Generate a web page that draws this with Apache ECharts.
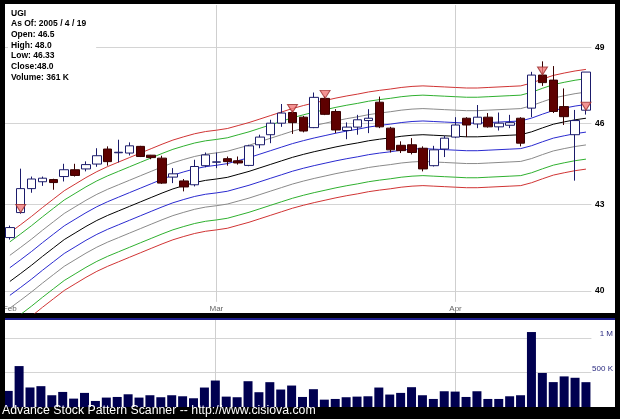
<!DOCTYPE html>
<html><head><meta charset="utf-8">
<script src="https://cdn.jsdelivr.net/npm/echarts@6.0.0/dist/echarts.min.js"></script>
<style>html,body{margin:0;padding:0;background:#000;}#c{width:620px;height:419px;}</style>
</head><body><div id="c"></div>
<script>
// ---- data ----
const dates = [
 '2005-02-01','2005-02-02','2005-02-03','2005-02-04','2005-02-07','2005-02-08','2005-02-09','2005-02-10','2005-02-11',
 '2005-02-14','2005-02-15','2005-02-16','2005-02-17','2005-02-18','2005-02-22','2005-02-23','2005-02-24','2005-02-25','2005-02-28',
 '2005-03-01','2005-03-02','2005-03-03','2005-03-04','2005-03-07','2005-03-08','2005-03-09','2005-03-10','2005-03-11',
 '2005-03-14','2005-03-15','2005-03-16','2005-03-17','2005-03-18','2005-03-21','2005-03-22','2005-03-23','2005-03-24',
 '2005-03-28','2005-03-29','2005-03-30','2005-03-31',
 '2005-04-01','2005-04-04','2005-04-05','2005-04-06','2005-04-07','2005-04-08','2005-04-11','2005-04-12','2005-04-13',
 '2005-04-14','2005-04-15','2005-04-18','2005-04-19'];
const monthNames = ['Jan','Feb','Mar','Apr','May','Jun','Jul','Aug','Sep','Oct','Nov','Dec'];

const opens = [41.82,42.70,43.56,43.81,43.89,44.00,44.25,44.28,44.46,45.02,44.88,44.87,45.12,44.79,44.68,43.98,43.84,43.70,44.40,
 44.53,44.66,44.58,44.41,45.18,45.56,46.00,46.41,46.23,45.83,46.96,46.45,45.72,45.85,46.10,46.81,45.81,45.16,45.18,45.05,44.40,45.02,
 45.47,46.19,45.97,46.23,45.86,45.92,46.19,46.58,47.88,47.68,46.64,45.56,46.50];
const closes = [42.17,43.56,43.91,43.94,43.78,44.25,44.04,44.44,44.77,44.55,44.90,45.14,44.74,44.70,43.76,44.10,43.62,44.37,44.80,
 44.54,44.55,44.50,45.14,45.47,46.00,46.39,46.02,45.70,47.00,46.34,45.74,45.85,46.13,46.19,45.86,44.99,44.96,44.89,44.28,44.99,45.43,
 45.93,45.93,46.23,45.86,46.00,46.02,45.24,47.88,47.58,46.45,46.25,46.10,48.00];
const highs = [42.24,44.29,44.00,44.00,43.92,44.47,44.47,44.56,45.05,45.12,45.37,45.27,45.14,44.80,44.77,44.31,43.91,44.62,44.89,
 44.89,44.74,44.74,45.18,45.56,46.13,46.74,46.51,46.28,47.19,47.05,46.54,46.03,46.32,46.54,47.03,45.86,45.31,45.43,45.12,45.14,45.52,
 46.23,46.23,46.70,46.39,46.41,46.32,46.23,48.01,48.43,48.24,47.35,46.51,48.00];
const lows = [41.75,42.66,43.41,43.66,43.52,43.82,44.00,44.19,44.36,44.40,44.52,44.78,44.72,44.64,43.73,43.76,43.46,43.64,44.34,
 44.31,44.40,44.44,44.38,45.05,45.24,45.86,45.59,45.65,45.81,46.31,45.62,45.39,45.56,45.62,45.81,44.89,44.87,44.82,44.19,44.37,44.72,
 45.43,45.47,45.81,45.83,45.72,45.81,45.12,46.23,47.45,46.39,45.93,43.85,46.33];
const volumes = [234000,595000,284000,303000,171000,219000,122000,205000,88000,137000,146000,185000,137000,171000,142000,171000,156000,127000,283000,
 385000,151000,142000,375000,215000,361000,254000,312000,146000,259000,107000,117000,142000,151000,156000,283000,181000,205000,288000,171000,117000,229000,
 224000,146000,229000,117000,117000,156000,171000,1090000,495000,362000,445000,425000,361000];
// centre line of the envelope (black line)
const midline = [40.32,40.59,40.87,41.17,41.46,41.75,41.98,42.21,42.42,42.60,42.76,42.92,43.08,43.24,43.40,43.55,43.67,43.78,43.86,
 43.91,43.97,44.08,44.19,44.32,44.45,44.58,44.71,44.82,44.92,45.01,45.10,45.18,45.25,45.33,45.39,45.44,45.50,45.54,45.56,45.54,45.52,
 45.50,45.48,45.48,45.50,45.52,45.54,45.56,45.67,45.82,45.96,46.05,46.13,46.19];
// envelope offsets (percent): blue, gray, green, red
const envelopePct = [1.15, 2.2, 3.35, 4.15];
// pattern signals (down triangles at the open)
const signalIdx = [1, 26, 29, 49, 53];
const priceTicks = [40, 43, 46, 49];
const volumeTicks = [500000, 1000000];
const infoLines = ['UGI','As Of: 2005 / 4 / 19','Open: 46.5','High: 48.0','Low: 46.33','Close:48.0','Volume: 361 K'];
const footer = 'Advance Stock Pattern Scanner -- http://www.cisiova.com';

// ---- build chart ----
const chart = echarts.init(document.getElementById('c'), null, {renderer: 'canvas'});
const monthStarts = dates.map((d, i) => i === 0 || d.slice(5, 7) !== dates[i - 1].slice(5, 7)).map((b, i) => b ? i : -1).filter(i => i >= 0);
const gridLineIdx = monthStarts.filter(i => i > 0);
const bandColors = ['#2a2ad0', '#8a8a8a', '#2fb02f', '#d03434'];
const priceMin = 39.274, priceMax = 50.757, vLineBottom = 39.64;
const vLineStyle = {color: '#cfcfcf', width: 1, type: 'solid'};
const vLinesPrice = {silent: true, symbol: 'none', z: 1, label: {show: false}, lineStyle: vLineStyle,
  data: gridLineIdx.map(i => [{coord: [dates[i], vLineBottom]}, {coord: [dates[i], priceMax]}])};
const vLinesVol = {silent: true, symbol: 'none', z: 1, label: {show: false}, lineStyle: vLineStyle,
  data: gridLineIdx.map(i => ({xAxis: dates[i]}))};
const lineSeries = [];
lineSeries.push({type: 'line', name: 'mid', xAxisIndex: 0, yAxisIndex: 0, data: midline, symbol: 'none', silent: true, z: 2,
  lineStyle: {color: '#000', width: 1}, markLine: vLinesPrice});
envelopePct.forEach((p, k) => {
  lineSeries.push({type: 'line', xAxisIndex: 0, yAxisIndex: 0, symbol: 'none', silent: true, z: 2,
    data: midline.map(v => +(v * (1 + p / 100)).toFixed(3)), lineStyle: {color: bandColors[k], width: 1}});
  lineSeries.push({type: 'line', xAxisIndex: 0, yAxisIndex: 0, symbol: 'none', silent: true, z: 2,
    data: midline.map(v => +(v * (1 - p / 100)).toFixed(3)), lineStyle: {color: bandColors[k], width: 1}});
});

const gridL = 2.75, gridR = 28.6;
const option = {
  animation: false,
  backgroundColor: '#000',
  title: {
    text: infoLines.join('\n'), left: 8, top: 5, padding: [3, 10, 3, 3], backgroundColor: '#fff',
    textStyle: {fontFamily: '"Liberation Sans", Arial, sans-serif', fontSize: 8.5, fontWeight: 'bold', lineHeight: 10.7, color: '#000'}
  },
  graphic: [
    {type: 'rect', z: -10, shape: {x: 5, y: 4, width: 610, height: 309}, style: {fill: '#fff'}},
    {type: 'rect', z: -10, shape: {x: 5, y: 320, width: 610, height: 87}, style: {fill: '#fff'}},
    {type: 'rect', z: 100, shape: {x: 0, y: 0, width: 5, height: 419}, style: {fill: '#000'}},
    {type: 'rect', z: 100, shape: {x: 5, y: 318, width: 610, height: 2}, style: {fill: '#1c1c8c'}},
    {type: 'text', z: 100, left: 2, top: 405, style: {text: footer, fill: '#fff', font: '12.3px "Liberation Sans", Arial, sans-serif'}}
  ],
  grid: [
    {left: gridL, right: gridR, top: 5, height: 308},
    {left: gridL, right: gridR, top: 320, height: 87}
  ],
  xAxis: [
    {type: 'category', gridIndex: 0, data: dates, boundaryGap: true,
     axisLine: {show: false}, axisTick: {show: false}, splitLine: {show: false},
     axisLabel: {inside: true, margin: 0, fontSize: 8, color: '#666', fontFamily: '"Liberation Sans", Arial, sans-serif',
       interval: (i) => monthStarts.indexOf(i) >= 0,
       formatter: (v) => monthNames[parseInt(v.slice(5, 7), 10) - 1]}},
    {type: 'category', gridIndex: 1, data: dates, boundaryGap: true,
     axisLine: {show: false}, axisTick: {show: false}, axisLabel: {show: false}, splitLine: {show: false}}
  ],
  yAxis: [
    {type: 'log', gridIndex: 0, position: 'right', min: priceMin, max: priceMax, logBase: 10,
     axisLine: {show: false}, axisTick: {show: false, customValues: priceTicks},
     axisLabel: {customValues: priceTicks, margin: 3.6, fontSize: 8.5, fontWeight: 'bold', color: '#000',
       fontFamily: '"Liberation Sans", Arial, sans-serif', formatter: (v) => String(Math.round(v))},
     splitLine: {show: true, lineStyle: {color: '#d4d4d4', width: 1}}},
    {type: 'value', gridIndex: 1, position: 'right', min: 0, max: 1265000,
     axisLine: {show: false}, axisTick: {show: false, customValues: volumeTicks},
     axisLabel: {customValues: volumeTicks, margin: 21.6, align: 'right', verticalAlign: 'bottom', fontSize: 8, color: '#2b2b80',
       fontFamily: '"Liberation Sans", Arial, sans-serif',
       formatter: (v) => v >= 1000000 ? (v / 1000000) + ' M' : (v / 1000) + ' K'},
     splitLine: {show: true, lineStyle: {color: '#d4d4d4', width: 1}}}
  ],
  series: lineSeries.concat([
    {type: 'candlestick', xAxisIndex: 0, yAxisIndex: 0, z: 3, barWidth: 9,
     data: opens.map((o, i) => [o, closes[i], lows[i], highs[i]]),
     itemStyle: {color: '#ffffff', color0: '#5e0000', borderColor: '#1b1b6b', borderColor0: '#3a0000', borderWidth: 1}},
    {type: 'scatter', xAxisIndex: 0, yAxisIndex: 0, z: 4, symbol: 'triangle', symbolRotate: 180, symbolSize: [10, 8],
     symbolOffset: [0, -4], silent: true,
     data: signalIdx.map(i => [dates[i], opens[i]]),
     itemStyle: {color: '#f07878', borderColor: '#9a2a2a', borderWidth: 1}},
    {type: 'bar', xAxisIndex: 1, yAxisIndex: 1, z: 3, barWidth: 9, data: volumes, itemStyle: {color: '#000050'},
     markLine: vLinesVol}
  ])
};
chart.setOption(option);
</script>
</body></html>
